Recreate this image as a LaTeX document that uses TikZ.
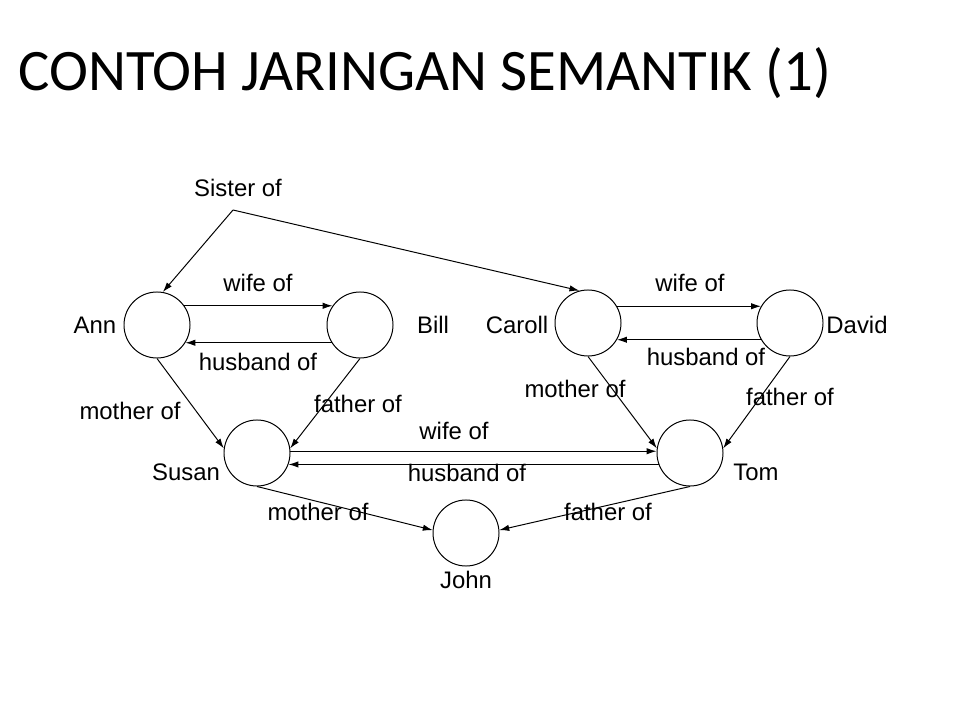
\documentclass[tikz,border=0pt]{standalone}
\usepackage{fontspec}
\setmainfont{Liberation Sans}
\newfontfamily\titlefont{Carlito}
\usetikzlibrary{arrows.meta}

\tikzset{
    person/.style={draw, circle, minimum size=1.65cm, inner sep=0pt, line width=0.7pt},
    rel/.style={line width=0.7pt, -{Latex[length=7pt,width=4.5pt]}},
    lbl/.style={inner sep=1pt, font=\fontsize{17}{19}\selectfont}
}

\begin{document}
\begin{tikzpicture}[x=0.025cm, y=-0.025cm]

    \useasboundingbox (0,0) rectangle (960,720);
    \node[anchor=base west, inner sep=0pt, font=\titlefont\fontsize{41.8}{48}\selectfont] (title) at (18,91) {CONTOH JARINGAN SEMANTIK (1)};

    % people
    \node[person] (ann) at (157,325) {};
    \node[person] (bill) at (360,325) {};
    \node[person] (caroll) at (588,323) {};
    \node[person] (david) at (790,323) {};
    \node[person] (susan) at (257,453) {};
    \node[person] (tom) at (690,453) {};
    \node[person] (john) at (466,533) {};

    \node[lbl] (nann) at (95,325) {Ann};
    \node[lbl] (nbill) at (433,325) {Bill};
    \node[lbl] (ncaroll) at (517,325) {Caroll};
    \node[lbl] (ndavid) at (857,325) {David};
    \node[lbl] (nsusan) at (186,472) {Susan};
    \node[lbl] (ntom) at (756,472) {Tom};
    \node[lbl] (njohn) at (466,580) {John};

    % sister of
    \coordinate (sis) at (233,210);
    \node[lbl] (lsis) at (238,188) {Sister of};
    \draw[rel] (sis) -- (ann.80);
    \draw[rel] (sis) -- (caroll.105);

    % couples
    \draw[rel] (ann.35) -- (bill.145);
    \draw[rel] (bill.-148) -- (ann.-32);
    \node[lbl] (lwife1) at (258,283) {wife of};
    \node[lbl] (lhusb1) at (258,362) {husband of};

    \draw[rel] (caroll.30) -- (david.150);
    \draw[rel] (david.-150) -- (caroll.-30);
    \node[lbl] (lwife2) at (690,283) {wife of};
    \node[lbl] (lhusb2) at (706,357) {husband of};

    \draw[rel] (susan.3) -- (tom.177);
    \draw[rel] (tom.-160) -- (susan.-20);
    \node[lbl] (lwife3) at (454,431) {wife of};
    \node[lbl] (lhusb3) at (467,473) {husband of};

    % parents
    \draw[rel] (ann.south) -- (susan.172);
    \draw[rel] (bill.south) -- (susan.8);
    \node[lbl] (lmoth1) at (130,411) {mother of};
    \node[lbl] (lfath1) at (358,404) {father of};

    \draw[rel] (caroll.south) -- (tom.172);
    \draw[rel] (david.south) -- (tom.8);
    \node[lbl] (lmoth2) at (575,389) {mother of};
    \node[lbl] (lfath2) at (790,397) {father of};

    \draw[rel] (susan.south) -- (john.175);
    \draw[rel] (tom.south) -- (john.5);
    \node[lbl] (lmoth3) at (318,512) {mother of};
    \node[lbl] (lfath3) at (608,512) {father of};

\end{tikzpicture}
\end{document}
